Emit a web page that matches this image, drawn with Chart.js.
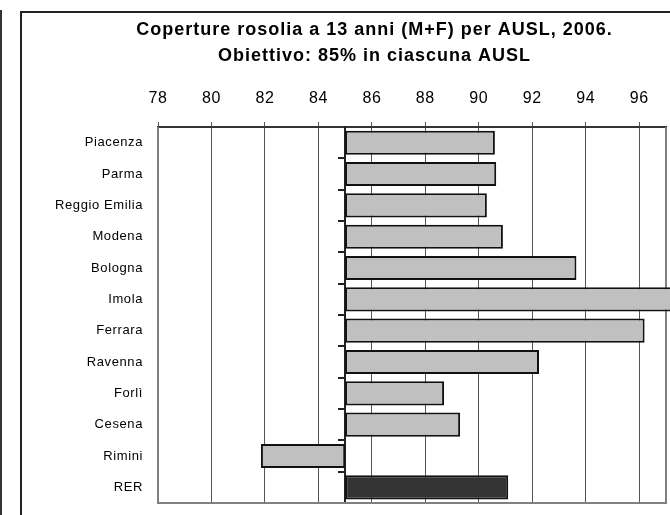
<!DOCTYPE html>
<html>
<head>
<meta charset="utf-8">
<script src="https://cdn.jsdelivr.net/npm/chart.js@4/dist/chart.umd.min.js"></script>
<style>
  html, body { margin: 0; padding: 0; background: #fff; overflow: hidden; }
  #wrap { position: relative; width: 670px; height: 515px; overflow: hidden; }
  #edge { position: absolute; left: 0; top: 10px; width: 2px; height: 520px; background: #333; }
  #frame { position: absolute; left: 20px; top: 11px; width: 700px; height: 600px; border: 2px solid #222; }
  canvas { position: absolute; left: 0; top: 0; }
</style>
</head>
<body>
<div id="wrap">
  <div id="edge"></div>
  <div id="frame"></div>
  <canvas id="grafica" width="670" height="515"></canvas>
</div>
<script>
// Dati: copertura rosolia a 13 anni per AUSL, 2006
var aziende = ['Piacenza', 'Parma', 'Reggio Emilia', 'Modena', 'Bologna', 'Imola',
               'Ferrara', 'Ravenna', 'Forlì', 'Cesena', 'Rimini', 'RER'];
var coperture = [90.6, 90.65, 90.3, 90.9, 93.65, 97.6, 96.2, 92.25, 88.7, 89.3, 81.85, 91.1];
var obiettivo = 85;
var tickX = [78, 80, 82, 84, 86, 88, 90, 92, 94, 96];
var titolo = ['Coperture rosolia a 13 anni (M+F) per AUSL, 2006.', 'Obiettivo: 85% in ciascuna AUSL'];

var font = 'Liberation Sans, Arial, sans-serif';

// testo un po' spaziato, come nel grafico originale
var spaziatura = {
  id: 'spaziatura',
  beforeUpdate: function (chart) { chart.ctx.letterSpacing = '0.6px'; },
  beforeDraw: function (chart) { chart.ctx.letterSpacing = '0.6px'; },
  afterLayout: function (chart) {
    var t = chart.titleBlock;
    if (!t) return;
    // titolo centrato su etichette + area del grafico
    t.left = 83;
    t.right = chart.chartArea.right;
    if (!t._spaziato) {
      var drawOrig = t.draw;
      t.draw = function () {
        chart.ctx.letterSpacing = '1px';
        drawOrig.apply(this, arguments);
        chart.ctx.letterSpacing = '0.6px';
      };
      t._spaziato = true;
    }
  }
};

// bordo grigio dell'area del grafico (sinistra, basso, destra)
var bordoArea = {
  id: 'bordoArea',
  beforeDatasetsDraw: function (chart) {
    var a = chart.chartArea, ctx = chart.ctx;
    ctx.save();
    ctx.strokeStyle = '#808080';
    ctx.lineWidth = 2;
    ctx.beginPath();
    ctx.moveTo(a.left, a.top);
    ctx.lineTo(a.left, a.bottom);
    ctx.lineTo(a.right, a.bottom);
    ctx.lineTo(a.right, a.top);
    ctx.stroke();
    ctx.restore();
  }
};

var g = new Chart(document.getElementById('grafica'), {
  type: 'bar',
  data: {
    labels: aziende,
    datasets: [{
      data: coperture,
      base: obiettivo,
      backgroundColor: aziende.map(function (a) { return a === 'RER' ? '#333333' : '#c0c0c0'; }),
      borderColor: '#111',
      borderWidth: 2,
      borderSkipped: false,
      barPercentage: 0.77,
      categoryPercentage: 1,
      clip: false
    }]
  },
  options: {
    indexAxis: 'y',
    responsive: false,
    animation: false,
    layout: { padding: { left: 0, right: 4, top: 0, bottom: 12 } },
    scales: {
      x: {
        position: 'top',
        min: 78,
        max: 97,
        afterBuildTicks: function (scale) {
          scale.ticks = tickX.map(function (v) { return { value: v }; });
        },
        ticks: { color: '#000', font: { family: font, size: 16 }, padding: 14, maxRotation: 0 },
        grid: { color: '#555', lineWidth: 1, tickLength: 5 },
        border: { color: '#333', width: 2 }
      },
      y: {
        afterFit: function (scale) { scale.width = 158; },
        ticks: { color: '#000', font: { family: font, size: 13 }, padding: 2 },
        grid: { display: false, drawTicks: true, tickLength: 13 },
        border: { display: false }
      },
      y2: {
        type: 'category',
        position: { x: obiettivo },
        offset: true,
        ticks: { display: false },
        grid: { offset: true, drawOnChartArea: false, tickLength: 6, lineWidth: 2, color: '#222' },
        border: { color: '#222', width: 2 }
      }
    },
    plugins: {
      legend: { display: false },
      tooltip: { enabled: false },
      title: {
        display: true,
        text: titolo,
        color: '#000',
        font: { family: font, size: 18, weight: 'bold', lineHeight: 1.44 },
        padding: { top: 17, bottom: 6 }
      }
    }
  },
  plugins: [spaziatura, bordoArea]
});
</script>
</body>
</html>
